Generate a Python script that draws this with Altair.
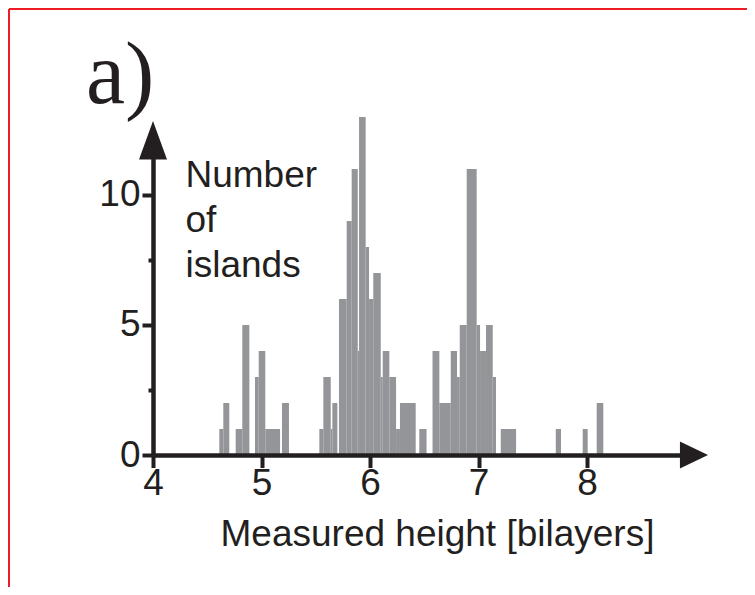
import altair as alt
import pandas as pd

# Histogram bars: bin edges (bilayers) and counts
bin_start = [4.611, 4.648, 4.762, 4.823, 4.940, 4.974, 5.035, 5.189,
             5.533, 5.570, 5.638, 5.653, 5.714, 5.785, 5.831, 5.887, 5.899,
             5.960, 5.991, 6.030, 6.099, 6.117, 6.178, 6.240, 6.276, 6.454,
             6.576, 6.639, 6.744, 6.802, 6.827, 6.891, 6.983, 7.014, 7.069,
             7.131, 7.205, 7.712, 7.960, 8.089]
bin_end = [4.648, 4.703, 4.823, 4.888, 4.974, 5.035, 5.171, 5.253,
           5.570, 5.638, 5.653, 5.699, 5.785, 5.831, 5.887, 5.899, 5.960,
           5.991, 6.030, 6.099, 6.117, 6.178, 6.240, 6.276, 6.421, 6.521,
           6.639, 6.744, 6.802, 6.827, 6.891, 6.983, 7.014, 7.069, 7.131,
           7.161, 7.346, 7.760, 8.006, 8.150]
counts = [1, 2, 1, 5, 3, 4, 1, 2,
          1, 3, 1, 2, 6, 9, 11, 4, 13,
          8, 6, 7, 3, 4, 3, 1, 2, 1,
          4, 2, 4, 3, 5, 11, 5, 4, 5,
          3, 1, 1, 1, 2]

x_ticks = [4, 4.5, 5, 5.5, 6, 6.5, 7, 7.5, 8, 8.5]
y_ticks = [0, 2.5, 5, 7.5, 10]
x_min, x_max = 4, 8.866
y_min, y_max = 0, 11.42

x_title = "Measured height [bilayers]"
y_title = ["Number", "of", "islands"]
panel_label = "a)"

ink = "#231f20"
bar_gray = "#939598"
font = "Liberation Sans"
fs = 37

bars_df = pd.DataFrame({"start": bin_start, "end": bin_end, "count": counts})

xscale = alt.Scale(domain=[x_min, x_max], nice=False, zero=False)
yscale = alt.Scale(domain=[y_min, y_max], nice=False, zero=False)

xaxis = alt.Axis(
    values=x_ticks, format="d",
    labelExpr="datum.value % 1 === 0 ? datum.label : ''",
    labelFlush=False, labelOverlap=False,
    labelFont=font, labelFontSize=fs, labelColor=ink, labelPadding=-2,
    domainColor=ink, domainWidth=4.5,
    tickColor=ink, tickWidth=4,
    tickSize={"condition": {"test": "datum.value % 1 === 0", "value": 12.5}, "value": 7},
    grid=False, zindex=1,
    title=x_title, titleFont=font, titleFontSize=fs, titleFontWeight="normal",
    titleColor=ink, titleX=284, titleY=90, titleAlign="center",
    titleBaseline="alphabetic", titleAnchor="start",
)
yaxis = alt.Axis(
    values=y_ticks, format="d",
    labelExpr="datum.value % 5 === 0 ? datum.label : ''",
    labelFlush=False, labelOverlap=False,
    labelFont=font, labelFontSize=fs, labelColor=ink, labelPadding=2,
    domainColor=ink, domainWidth=4.5,
    tickColor=ink, tickWidth=4,
    tickSize={"condition": {"test": "datum.value % 5 === 0", "value": 11}, "value": 5},
    grid=False, zindex=1,
    title=y_title, titleFont=font, titleFontSize=fs, titleFontWeight="normal",
    titleColor=ink, titleAngle=0, titleX=32, titleY=28, titleAlign="left",
    titleBaseline="alphabetic", titleLineHeight=45, titleAnchor="start",
)

bars = alt.Chart(bars_df).mark_rect(color=bar_gray, opacity=1).encode(
    x=alt.X("start:Q", scale=xscale, axis=xaxis),
    x2="end:Q",
    y=alt.Y("count:Q", scale=yscale, axis=yaxis),
    y2=alt.datum(0),
)

# arrow heads at the ends of the two axes
xarrow_df = pd.DataFrame({"start": [x_max], "count": [y_min]})
yarrow_df = pd.DataFrame({"start": [x_min], "count": [y_max]})

xarrow = alt.Chart(xarrow_df).mark_point(
    shape="M-0.04,-0.5 L1,0 L-0.04,0.5 Z", size=2916, filled=True,
    color=ink, opacity=1, strokeWidth=0,
).encode(
    x=alt.X("start:Q", scale=xscale, axis=xaxis),
    y=alt.Y("count:Q", scale=yscale, axis=yaxis),
)
yarrow = alt.Chart(yarrow_df).mark_point(
    shape="M-0.378,0.04 L0,-1 L0.378,0.04 Z", size=5476, filled=True,
    color=ink, opacity=1, strokeWidth=0,
).encode(
    x=alt.X("start:Q", scale=xscale, axis=xaxis),
    y=alt.Y("count:Q", scale=yscale, axis=yaxis),
)

label_df = pd.DataFrame({"t": [panel_label]})
label = alt.Chart(label_df).mark_text(
    font="Liberation Serif", fontSize=88, color=ink, align="left",
    baseline="alphabetic",
).encode(x=alt.value(-67), y=alt.value(-55), text="t:N")

frame_df = pd.DataFrame({"k": [0]})
frame_top = alt.Chart(frame_df).mark_rule(color="#ee1c24", strokeWidth=2).encode(
    x=alt.value(-144), x2=alt.value(600), y=alt.value(-149))
frame_left = alt.Chart(frame_df).mark_rule(color="#ee1c24", strokeWidth=2).encode(
    x=alt.value(-144), y=alt.value(-149), y2=alt.value(440))

chart = alt.layer(bars, xarrow, yarrow, label, frame_top, frame_left).properties(
    width=528, height=297,
    padding={"left": 145, "top": 150, "right": 66, "bottom": 132},
    autosize=alt.AutoSizeParams(type="none"),
    background="white",
).configure_view(stroke=None)

chart.save("out.html", embed_options={"renderer": "svg", "actions": False})
